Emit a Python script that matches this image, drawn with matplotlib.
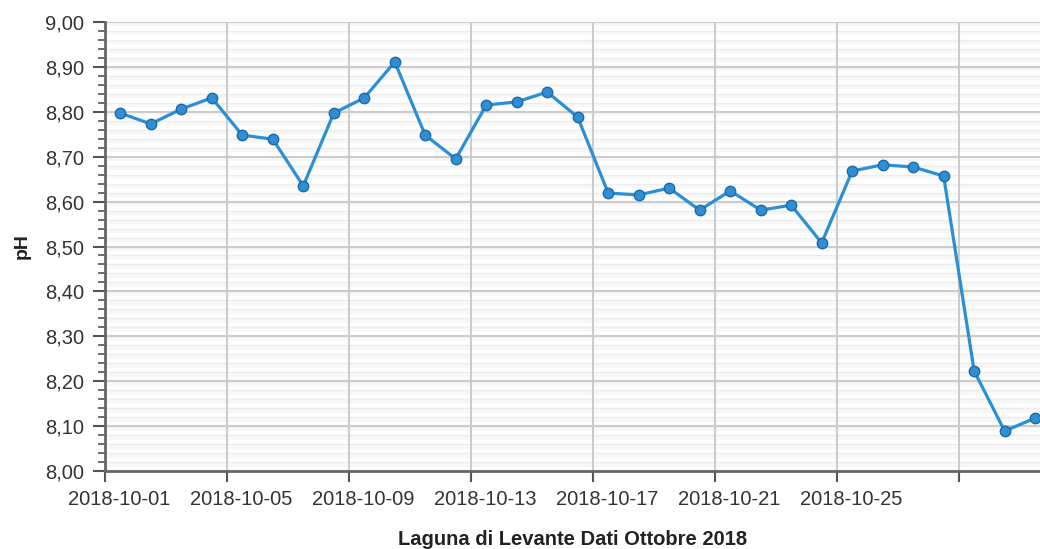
import datetime as dt
import matplotlib
matplotlib.use("Agg")
import matplotlib.pyplot as plt
import numpy as np

# daily pH readings, October 2018
days = list(range(1, 32))
ph = [8.797, 8.773, 8.806, 8.831, 8.748, 8.739, 8.635, 8.797, 8.831, 8.911,
      8.748, 8.695, 8.815, 8.822, 8.844, 8.788, 8.619, 8.615, 8.630, 8.581,
      8.624, 8.581, 8.592, 8.508, 8.668, 8.682, 8.677, 8.657, 8.223, 8.089,
      8.118]
tick_days = [1, 5, 9, 13, 17, 21, 25, 29]
tick_labels = ["2018-10-01", "2018-10-05", "2018-10-09", "2018-10-13",
               "2018-10-17", "2018-10-21", "2018-10-25", ""]

plt.rcParams["font.family"] = ["Liberation Sans", "DejaVu Sans"]

x = [dt.datetime(2018, 10, d, 12) for d in days]
ticks = [dt.datetime(2018, 10, d) for d in tick_days]
label_pos = [dt.datetime(2018, 10, d, 11) for d in tick_days]

fig = plt.figure(figsize=(10.4, 5.49), dpi=100)
ax = fig.add_axes([0.101, 0.142, 0.899, 0.818])

# faint striped background
for y0 in np.arange(8.0, 9.0, 0.02):
    ax.axhspan(y0 + 0.01, y0 + 0.02, color="#f8f8f8", lw=0, zorder=0)
for y0 in np.arange(8.02, 9.0, 0.02):
    ax.axhline(y0, color="#ededed", lw=1, zorder=0.5)

ax.set_ylim(8.0, 9.0)
ax.set_xlim(dt.datetime(2018, 10, 1), dt.datetime(2018, 10, 31, 15, 50))
ax.set_yticks(np.arange(8.0, 9.001, 0.1))
ax.set_yticklabels([f"{v:.2f}".replace(".", ",") for v in np.arange(8.0, 9.001, 0.1)])
ax.set_yticks(np.arange(8.0, 9.001, 0.02), minor=True)

# tick marks + grid at midnight, labels under the noon point
ax.set_xticks(ticks)
ax.set_xticklabels([""] * len(ticks))
ax.set_xticks(label_pos, minor=True)
ax.set_xticklabels(tick_labels, minor=True)

ax.grid(True, which="major", color="#cccccc", lw=1.5, zorder=1)
ax.set_axisbelow(True)

ax.plot(x, ph, color="#2b8fd6", lw=2.3, marker="o", markersize=7.5,
        markerfacecolor="#2f8fd5", markeredgecolor="#1d6aa5",
        markeredgewidth=1, zorder=3, clip_on=False)

for s in ["top", "right"]:
    ax.spines[s].set_visible(False)
for s in ["left", "bottom"]:
    ax.spines[s].set_color("#666666")
    ax.spines[s].set_linewidth(2)

ax.tick_params(axis="y", which="major", length=9, width=1.5, color="#555555",
               labelsize=14.5, labelcolor="#333333", pad=6)
ax.tick_params(axis="y", which="minor", length=5, width=1.2, color="#555555")
ax.tick_params(axis="x", which="major", length=8, width=1.5, color="#555555")
ax.tick_params(axis="x", which="minor", length=0, labelsize=14.5,
               labelcolor="#333333", pad=14)

ax.set_xlabel("Laguna di Levante Dati Ottobre 2018", fontsize=14.5,
              fontweight="bold", color="#222222", labelpad=15)
ax.set_ylabel("pH", fontsize=14, fontweight="bold", color="#222222",
              labelpad=10)

fig.savefig("out.png", dpi=100)
